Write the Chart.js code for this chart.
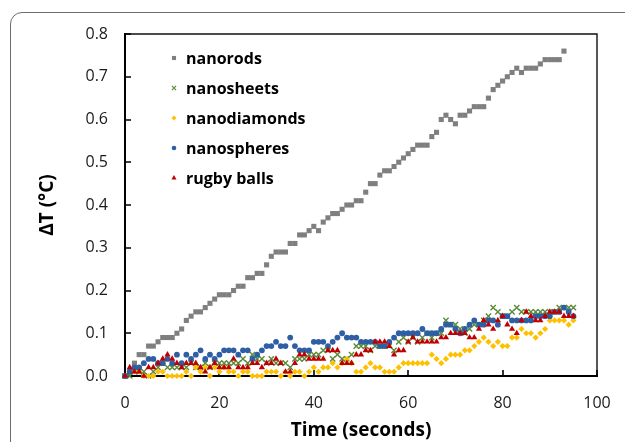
<!DOCTYPE html>
<html>
<head>
<meta charset="utf-8">
<script src="https://cdn.jsdelivr.net/npm/chart.js@4.4.1/dist/chart.umd.min.js"></script>
<style>
html,body{margin:0;padding:0;background:#fff;overflow:hidden;width:625px;height:442px;}
#card{position:absolute;left:10px;top:12px;width:700px;height:500px;border:1px solid #6e6e6e;border-radius:12px;}
#wrap{position:absolute;left:0;top:0;width:625px;height:442px;}
</style>
</head>
<body>
<div id="card"></div>
<div id="wrap"><canvas id="c" width="625" height="442"></canvas></div>
<script>
// ---- data (time in seconds, ΔT in °C) ----
const time = [0,1,2,3,4,5,6,7,8,9,10,11,12,13,14,15,16,17,18,19,20,21,22,23,24,25,26,27,28,29,
  30,31,32,33,34,35,36,37,38,39,40,41,42,43,44,45,46,47,48,49,50,51,52,53,54,55,56,57,58,59,
  60,61,62,63,64,65,66,67,68,69,70,71,72,73,74,75,76,77,78,79,80,81,82,83,84,85,86,87,88,89,
  90,91,92,93,94,95];

const nanorods = [0.00,0.01,0.03,0.05,0.05,0.07,0.07,0.08,0.09,0.09,
  0.09,0.10,0.11,0.13,0.14,0.15,0.15,0.16,0.17,0.18,
  0.19,0.19,0.19,0.20,0.21,0.21,0.23,0.23,0.24,0.24,
  0.26,0.28,0.29,0.29,0.29,0.31,0.31,0.33,0.33,0.34,
  0.35,0.34,0.36,0.37,0.38,0.38,0.39,0.40,0.40,0.41,
  0.41,0.43,0.45,0.45,0.47,0.48,0.48,0.49,0.50,0.51,
  0.52,0.53,0.54,0.54,0.54,0.56,0.57,0.60,0.61,0.60,
  0.59,0.61,0.61,0.62,0.63,0.63,0.63,0.65,0.67,0.68,
  0.69,0.70,0.71,0.72,0.71,0.72,0.72,0.72,0.73,0.74,
  0.74,0.74,0.74,0.76];

const nanosheets = [0.00,0.00,0.01,0.01,0.01,0.00,0.01,0.02,0.03,0.02,
  0.02,0.02,0.02,0.02,0.03,0.02,0.02,0.03,0.02,0.03,
  0.03,0.03,0.03,0.03,0.03,0.04,0.03,0.05,0.04,0.04,
  0.03,0.04,0.03,0.03,0.03,0.02,0.04,0.04,0.04,0.05,
  0.05,0.05,0.06,0.06,0.04,0.05,0.04,0.04,0.05,0.07,
  0.07,0.07,0.06,0.07,0.07,0.07,0.07,0.06,0.08,0.09,
  0.08,0.09,0.08,0.09,0.10,0.09,0.10,0.10,0.13,0.12,
  0.12,0.11,0.10,0.11,0.12,0.12,0.13,0.14,0.16,0.15,
  0.14,0.14,0.15,0.16,0.15,0.15,0.15,0.15,0.15,0.15,
  0.15,0.15,0.16,0.16,0.16,0.16];

const nanodiamonds = [0.00,0.01,0.01,0.01,0.00,0.00,0.00,0.01,0.01,0.00,
  0.00,0.00,0.00,0.01,0.00,0.02,0.01,0.02,0.00,0.02,
  0.01,0.02,0.01,0.01,0.00,0.01,0.01,0.00,0.00,0.00,
  0.01,0.01,0.01,0.00,0.01,0.00,0.01,0.01,0.00,0.01,
  0.02,0.01,0.02,0.02,0.03,0.02,0.03,0.04,0.03,0.01,
  0.01,0.02,0.03,0.02,0.02,0.01,0.01,0.01,0.02,0.03,
  0.03,0.03,0.03,0.03,0.03,0.05,0.04,0.03,0.04,0.05,
  0.05,0.05,0.06,0.06,0.07,0.08,0.09,0.08,0.07,0.08,
  0.07,0.07,0.09,0.09,0.11,0.10,0.10,0.09,0.10,0.11,
  0.13,0.13,0.13,0.13,0.12,0.13];

const nanospheres = [0.00,0.01,0.02,0.02,0.03,0.04,0.04,0.03,0.03,0.04,
  0.03,0.05,0.03,0.05,0.04,0.05,0.06,0.04,0.05,0.04,
  0.05,0.06,0.06,0.06,0.05,0.06,0.06,0.04,0.05,0.06,
  0.07,0.07,0.08,0.07,0.07,0.09,0.07,0.06,0.06,0.06,
  0.08,0.08,0.08,0.07,0.08,0.09,0.10,0.09,0.09,0.09,
  0.08,0.08,0.08,0.08,0.07,0.07,0.08,0.09,0.10,0.10,
  0.10,0.10,0.10,0.11,0.10,0.10,0.10,0.11,0.12,0.12,
  0.11,0.10,0.11,0.12,0.13,0.12,0.12,0.13,0.13,0.12,
  0.14,0.14,0.13,0.13,0.13,0.13,0.13,0.14,0.14,0.14,
  0.14,0.15,0.15,0.16,0.15,0.14];

const rugbyBalls = [0.00,0.02,0.01,0.01,0.00,0.02,0.02,0.03,0.04,0.05,
  0.04,0.03,0.02,0.03,0.03,0.03,0.02,0.01,0.02,0.03,
  0.02,0.02,0.02,0.04,0.02,0.02,0.02,0.03,0.03,0.02,
  0.03,0.03,0.04,0.03,0.01,0.01,0.03,0.05,0.05,0.04,
  0.04,0.04,0.04,0.06,0.06,0.06,0.03,0.03,0.03,0.05,
  0.05,0.06,0.06,0.08,0.08,0.08,0.07,0.05,0.06,0.06,
  0.08,0.09,0.08,0.08,0.08,0.08,0.08,0.09,0.09,0.10,
  0.10,0.10,0.10,0.09,0.09,0.11,0.13,0.12,0.11,0.13,
  0.14,0.12,0.11,0.10,0.13,0.15,0.14,0.13,0.13,0.14,
  0.15,0.15,0.15,0.14,0.14,0.14];

const seriesNames = ['nanorods','nanosheets','nanodiamonds','nanospheres','rugby balls'];
const xTickValues = [0,20,40,60,80,100];
const yTickValues = [0,0.1,0.2,0.3,0.4,0.5,0.6,0.7,0.8];

// ---- build ----
function pts(vals){ return vals.map((v,i)=>({x: time[i], y: v})); }

const styles = [
  {style:'rect',     color:'#7f7f7f', r:3.6},
  {style:'crossRot', color:'#5a8a3a', r:3.7},
  {style:'rectRot',  color:'#ffc000', r:3.1},
  {style:'circle',   color:'#2e5ea4', r:2.9},
  {style:'triangle', color:'#c00000', r:3.6}
];
const seriesData = [nanorods, nanosheets, nanodiamonds, nanospheres, rugbyBalls];

const datasets = seriesData.map((vals,i)=>({
  label: seriesNames[i],
  data: pts(vals),
  showLine: false,
  pointStyle: styles[i].style,
  pointRadius: styles[i].r,
  pointHoverRadius: styles[i].r,
  backgroundColor: styles[i].color,
  borderColor: styles[i].color,
  pointBorderWidth: styles[i].style === 'crossRot' ? 1.4 : 0,
  clip: false,
  order: 4 - i
}));

function drawMarker(ctx, style, x, y, r, color){
  ctx.save();
  ctx.fillStyle = color; ctx.strokeStyle = color; ctx.lineWidth = 1.2;
  ctx.beginPath();
  if (style === 'rect') { const s = r*0.7071; ctx.rect(x-s, y-s, 2*s, 2*s); ctx.fill(); }
  else if (style === 'circle') { ctx.arc(x, y, r, 0, Math.PI*2); ctx.fill(); }
  else if (style === 'triangle') { ctx.moveTo(x, y-r); ctx.lineTo(x+r*0.866, y+r*0.5); ctx.lineTo(x-r*0.866, y+r*0.5); ctx.closePath(); ctx.fill(); }
  else if (style === 'rectRot') { ctx.moveTo(x, y-r); ctx.lineTo(x+r, y); ctx.lineTo(x, y+r); ctx.lineTo(x-r, y); ctx.closePath(); ctx.fill(); }
  else if (style === 'crossRot') { const d = r*0.7071; ctx.moveTo(x-d, y-d); ctx.lineTo(x+d, y+d); ctx.moveTo(x+d, y-d); ctx.lineTo(x-d, y+d); ctx.stroke(); }
  ctx.restore();
}

const framePlugin = {
  id: 'frame',
  beforeDatasetsDraw(chart){
    const {ctx, chartArea:{left,right,top,bottom}, scales:{x,y}} = chart;
    ctx.save();
    ctx.strokeStyle = '#111'; ctx.lineWidth = 1.4;
    ctx.beginPath();
    ctx.moveTo(left, top); ctx.lineTo(right, top); ctx.lineTo(right, bottom);
    ctx.stroke();
    ctx.strokeStyle = '#000'; ctx.lineWidth = 1.6;
    ctx.beginPath();
    yTickValues.forEach(v=>{ const py = Math.round(y.getPixelForValue(v)); ctx.moveTo(left, py); ctx.lineTo(left+6, py); });
    xTickValues.forEach(v=>{ const px = Math.round(x.getPixelForValue(v)); ctx.moveTo(px, bottom); ctx.lineTo(px, bottom-6); });
    ctx.stroke();
    ctx.restore();
  },
  afterDatasetsDraw(chart){
    const {ctx} = chart;
    ctx.save();
    ctx.font = 'bold 16px "Open Sans"';
    ctx.fillStyle = '#000';
    ctx.textBaseline = 'middle';
    ctx.textAlign = 'left';
    chart.data.datasets.forEach((ds,i)=>{
      const yy = 58 + 30*i;
      drawMarker(ctx, styles[i].style, 174, yy, styles[i].r*0.8, styles[i].color);
      ctx.fillText(ds.label, 186, yy + 1);
    });
    ctx.restore();
  }
};

new Chart(document.getElementById('c'), {
  type: 'scatter',
  data: { datasets },
  options: {
    responsive: false,
    animation: false,
    events: [],
    layout: { padding: { left: 0, right: 28, top: 34, bottom: 0 } },
    plugins: { legend: { display: false }, tooltip: { enabled: false } },
    scales: {
      x: {
        type: 'linear', position: 'bottom', min: 0, max: 100,
        afterBuildTicks: s => { s.ticks = xTickValues.map(v=>({value:v})); },
        ticks: { padding: 18, color: '#1a1a1a', font: { family: 'Open Sans', size: 16 }, maxRotation: 0 },
        grid: { drawOnChartArea: false, drawTicks: false },
        border: { color: '#000', width: 2 },
        title: { display: true, text: 'Time (seconds)', color: '#000', font: { family: 'Open Sans', size: 19, weight: 'bold' }, padding: { top: 0, bottom: 0 } },
        afterFit: s => { s.height = 66; s.paddingLeft = 0; s.paddingRight = 14; }
      },
      y: {
        type: 'linear', position: 'left', min: 0, max: 0.8,
        afterBuildTicks: s => { s.ticks = yTickValues.map(v=>({value:v})); },
        ticks: { padding: 17, color: '#1a1a1a', font: { family: 'Open Sans', size: 16 }, callback: v => Number(v).toFixed(1) },
        grid: { drawOnChartArea: false, drawTicks: false },
        border: { color: '#000', width: 2 },
        title: { display: true, text: 'ΔT (°C)', color: '#000', font: { family: 'Open Sans', size: 19, weight: 'bold' }, padding: { top: 36, bottom: 0 } },
        afterFit: s => { s.width = 125; }
      }
    }
  },
  plugins: [framePlugin]
});
</script>
</body>
</html>
